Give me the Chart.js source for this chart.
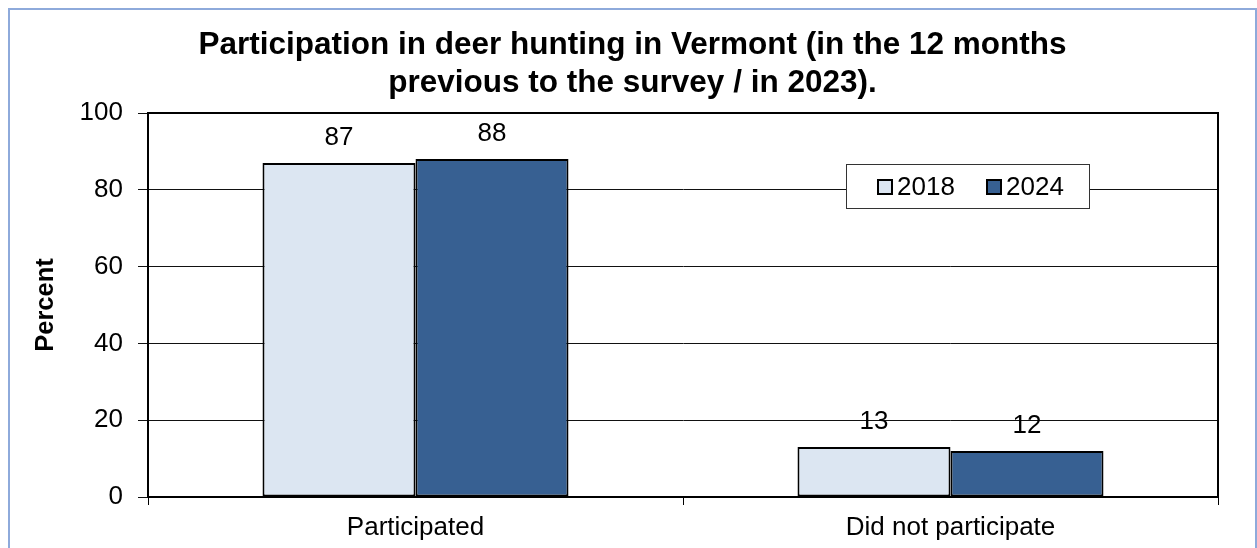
<!DOCTYPE html>
<html>
<head>
<meta charset="utf-8">
<script src="https://cdn.jsdelivr.net/npm/chart.js@4/dist/chart.umd.min.js"></script>
<style>
  body { margin: 0; background: #fff; }
</style>
</head>
<body>
<canvas id="deerChart" width="1257" height="548"></canvas>
<script>
const categories = ['Participated', 'Did not participate'];
const years = ['2018', '2024'];
const values2018 = [87, 13];
const values2024 = [88, 12];
const yTicks = [0, 20, 40, 60, 80, 100];
const titleLines = [
  'Participation in deer hunting in Vermont (in the 12 months',
  'previous to the survey / in 2023).'
];

const FONT = '"Liberation Sans", Arial, sans-serif';

// white background, light blue frame and the two-line heading centred on the frame
const framePlugin = {
  id: 'frame',
  beforeDraw(chart) {
    const c = chart.ctx;
    c.save();
    c.fillStyle = '#fff';
    c.fillRect(0, 0, chart.width, chart.height);
    c.strokeStyle = '#8eaadb';
    c.lineWidth = 2;
    c.strokeRect(9, 9, chart.width - 10, chart.height + 20);

    c.fillStyle = '#000';
    c.font = 'bold 31.5px ' + FONT;
    c.textAlign = 'center';
    c.textBaseline = 'middle';
    const cx = (9 + chart.width - 1) / 2;
    titleLines.forEach((line, i) => c.fillText(line, cx, 45 + i * 38));
    c.restore();
  }
};

// black box round the plot area, values over bars, and the boxed legend
const plotExtras = {
  id: 'plotExtras',
  afterDatasetsDraw(chart) {
    const c = chart.ctx;
    const a = chart.chartArea;
    c.save();
    c.strokeStyle = '#000';
    c.lineWidth = 2;
    c.strokeRect(a.left, a.top, a.right - a.left, a.bottom - a.top);

    c.fillStyle = '#000';
    c.font = '26px ' + FONT;
    c.textAlign = 'center';
    c.textBaseline = 'middle';
    chart.data.datasets.forEach((ds, i) => {
      chart.getDatasetMeta(i).data.forEach((bar, j) => {
        c.fillText(String(ds.data[j]), bar.x, bar.y - 25);
      });
    });

    // legend
    const lx = a.left + 698, ly = a.top + 51, lw = 243, lh = 44;
    c.fillStyle = '#fff';
    c.fillRect(lx, ly, lw, lh);
    c.strokeStyle = '#333';
    c.lineWidth = 1;
    c.strokeRect(lx + 0.5, ly + 0.5, lw, lh);
    c.textAlign = 'left';
    const offsets = [32, 141];
    chart.data.datasets.forEach((ds, i) => {
      const sx = lx + offsets[i], sy = ly + 16;
      c.fillStyle = ds.backgroundColor;
      c.fillRect(sx, sy, 14, 14);
      c.strokeStyle = '#000';
      c.lineWidth = 2;
      c.strokeRect(sx, sy, 14, 14);
      c.fillStyle = '#000';
      c.fillText(ds.label, sx + 19, sy + 8);
    });
    c.restore();
  }
};

new Chart(document.getElementById('deerChart'), {
  type: 'bar',
  data: {
    labels: categories,
    datasets: [
      {
        label: years[0],
        data: values2018,
        backgroundColor: '#dce6f2',
        borderColor: '#000',
        borderWidth: 2,
        borderSkipped: false
      },
      {
        label: years[1],
        data: values2024,
        backgroundColor: '#376092',
        borderColor: '#000',
        borderWidth: 2,
        borderSkipped: false
      }
    ]
  },
  options: {
    responsive: false,
    animation: false,
    layout: { padding: { left: 0, right: 39, top: 113, bottom: 0 } },
    datasets: {
      bar: { categoryPercentage: 0.572, barPercentage: 1.0 }
    },
    plugins: {
      legend: { display: false },
      tooltip: { enabled: false },
      title: { display: false }
    },
    scales: {
      x: {
        grid: {
          offset: true,
          drawOnChartArea: false,
          drawTicks: true,
          tickLength: 8,
          color: '#000'
        },
        border: { color: '#000', width: 2 },
        ticks: {
          color: '#000',
          padding: 7,
          font: { family: FONT, size: 26 }
        },
        afterFit(scale) { scale.height = 51; }
      },
      y: {
        min: 0,
        max: 100,
        afterBuildTicks(scale) { scale.ticks = yTicks.map(v => ({ value: v })); },
        grid: {
          color: '#111',
          lineWidth: 1,
          tickLength: 10,
          drawTicks: true
        },
        border: { color: '#000', width: 2 },
        ticks: {
          color: '#000',
          padding: 15,
          font: { family: FONT, size: 26 }
        },
        title: {
          display: true,
          text: 'Percent',
          color: '#000',
          font: { family: FONT, size: 25.5, weight: 'bold' },
          padding: { top: 31, bottom: 0 }
        },
        afterFit(scale) { scale.width = 148; }
      }
    }
  },
  plugins: [framePlugin, plotExtras]
});
</script>
</body>
</html>
